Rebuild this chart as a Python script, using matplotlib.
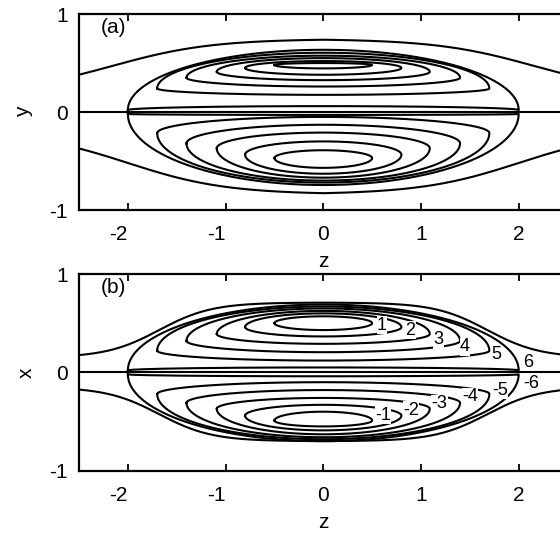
import numpy as np
import matplotlib
matplotlib.use("Agg")
import matplotlib.pyplot as plt

plt.rcParams["font.family"] = ["Liberation Sans", "DejaVu Sans"]
plt.rcParams["axes.unicode_minus"] = False

# closed contours (same z half-length for every panel)
tip_z = [0.50, 0.80, 1.09, 1.40, 1.70, 2.00]

# panel (a): y at the tip, far branch at z=0, near branch at z=0
a_up_tip = [0.48, 0.45, 0.41, 0.35, 0.24, 0.02]
a_up_far = [0.50, 0.52, 0.55, 0.575, 0.605, 0.635]
a_up_near = [0.445, 0.38, 0.325, 0.26, 0.175, 0.06]
a_lo_tip = [-0.47, -0.435, -0.37, -0.32, -0.215, -0.02]
a_lo_far = [-0.57, -0.63, -0.67, -0.70, -0.72, -0.745]
a_lo_near = [-0.39, -0.30, -0.21, -0.13, -0.05, -0.03]

# panel (b)
b_up_tip = [0.50, 0.46, 0.39, 0.32, 0.22, 0.02]
b_up_far = [0.57, 0.60, 0.625, 0.65, 0.67, 0.69]
b_up_near = [0.43, 0.365, 0.29, 0.205, 0.12, 0.05]
b_lo_tip = [-0.49, -0.44, -0.37, -0.31, -0.22, -0.02]
b_lo_far = [-0.55, -0.59, -0.63, -0.66, -0.68, -0.70]
b_lo_near = [-0.40, -0.33, -0.26, -0.18, -0.10, -0.04]

# open streamlines: height at z=0, height far out, turning point, turning width
a_open = [(0.745, 0.20, 2.15, 0.50), (-0.84, -0.20, 2.00, 0.50)]
b_open = [(0.71, 0.15, 1.68, 0.27), (-0.70, -0.15, 1.68, 0.27)]

# contour level labels of panel (b)
b_levels = ["1", "2", "3", "4", "5", "6"]
b_up_lab = [(0.60, 0.48), (0.89, 0.43), (1.18, 0.33), (1.45, 0.26), (1.77, 0.18), (2.10, 0.105)]
b_lo_lab = [(0.61, -0.435), (0.90, -0.385), (1.19, -0.317), (1.50, -0.25), (1.81, -0.18), (2.13, -0.11)]

z_ticks = [-2, -1, 0, 1, 2]
y_ticks = [-1, 0, 1]

LW = 1.5


def draw_loop(ax, half, y_tip, y_far, y_near, p=2.0):
    t = np.sin(np.linspace(-np.pi / 2, np.pi / 2, 400))
    s = (1 - np.abs(t) ** p) ** (1 / p)
    z = half * t
    far = y_tip + (y_far - y_tip) * s
    near = y_tip + (y_near - y_tip) * s
    ax.plot(np.concatenate([z, z[::-1]]), np.concatenate([far, near[::-1]]),
            color="k", lw=LW)


def draw_open(ax, y_mid, y_edge, z_turn, width):
    z = np.linspace(-2.7, 2.7, 600)
    y = y_edge + (y_mid - y_edge) / (1 + np.exp((np.abs(z) - z_turn) / width))
    ax.plot(z, y, color="k", lw=LW)


fig = plt.figure(figsize=(5.6, 5.33), dpi=100)
ax_a = fig.add_axes([0.1411, 0.6060, 0.8723, 0.3677])
ax_b = fig.add_axes([0.1411, 0.1169, 0.8723, 0.3690])

panels = [
    (ax_a, "(a)", "y", a_up_tip, a_up_far, a_up_near, a_lo_tip, a_lo_far, a_lo_near, a_open, -0.1146),
    (ax_b, "(b)", "x", b_up_tip, b_up_far, b_up_near, b_lo_tip, b_lo_far, b_lo_near, b_open, -0.107),
]

for ax, tag, ylab, ut, uf, un, lt, lf, ln, opens, ylx in panels:
    for k in range(len(tip_z)):
        draw_loop(ax, tip_z[k], ut[k], uf[k], un[k])
        draw_loop(ax, tip_z[k], lt[k], lf[k], ln[k])
    for o in opens:
        draw_open(ax, *o)
    ax.axhline(0, color="k", lw=LW)

    ax.set_xlim(-2.5, 2.5)
    ax.set_ylim(-1, 1)
    ax.set_xticks(z_ticks, labels=[str(v) for v in z_ticks])
    ax.set_yticks(y_ticks, labels=[str(v) for v in y_ticks])
    ax.tick_params(direction="in", top=True, right=True, length=5, width=1.3,
                   labelsize=15)
    ax.tick_params(axis="x", pad=11)
    ax.tick_params(axis="y", pad=8)
    # old-style labels: the minus sign hangs left of the tick
    for lbl in ax.get_xticklabels():
        if lbl.get_text().startswith("-"):
            lbl.set_ha("right")
    for sp in ax.spines.values():
        sp.set_linewidth(1.6)

    ax.set_xlabel("z", fontsize=15)
    ax.xaxis.set_label_coords(0.5, -0.265)
    ax.xaxis.label.set_va("center")
    ax.set_ylabel(ylab, fontsize=15)
    ax.yaxis.set_label_coords(ylx, 0.5)
    ax.yaxis.label.set_va("center")

    ax.text(0.0706, 0.93, tag, transform=ax.transAxes, fontsize=15,
            ha="center", va="center")

for lev, (zu, yu), (zl, yl) in zip(b_levels, b_up_lab, b_lo_lab):
    ax_b.text(zu, yu, lev, fontsize=13, ha="center", va="center",
              bbox=dict(facecolor="white", edgecolor="none", pad=0.3))
    ax_b.text(zl, yl, "-" + lev, fontsize=13, ha="center", va="center",
              bbox=dict(facecolor="white", edgecolor="none", pad=0.3))

fig.savefig("out.png", dpi=100)
